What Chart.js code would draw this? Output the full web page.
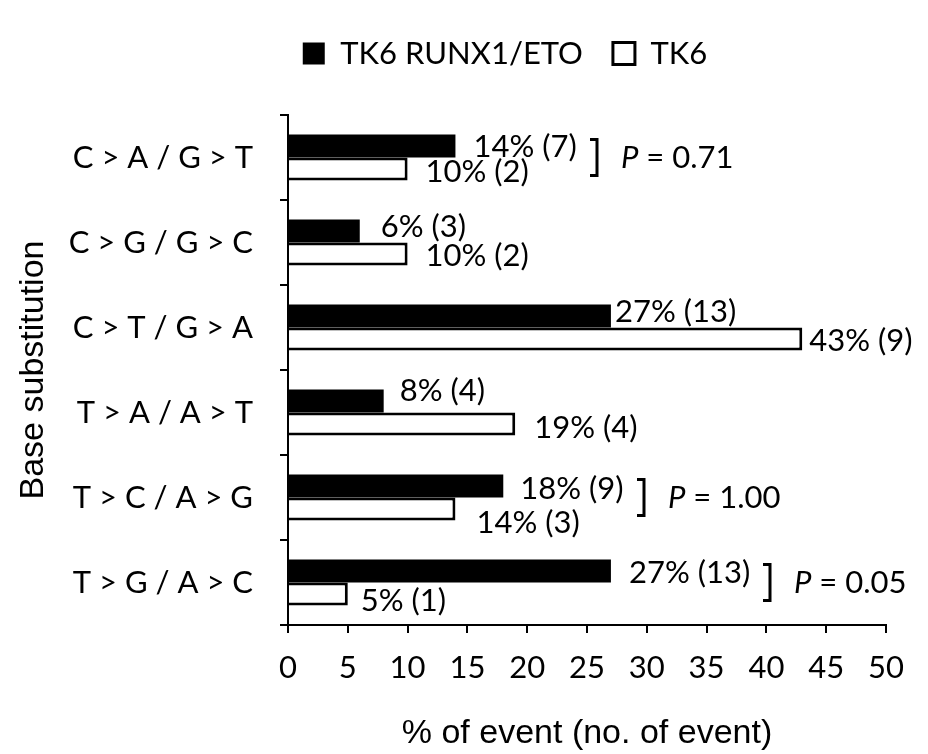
<!DOCTYPE html>
<html>
<head>
<meta charset="utf-8">
<script src="https://cdn.jsdelivr.net/npm/chart.js@4/dist/chart.umd.min.js"></script>
<style>
  html, body { margin: 0; padding: 0; background: #fff; }
  #wrap { width: 928px; height: 754px; position: relative; }
</style>
</head>
<body>
<div id="wrap"><canvas id="chart"></canvas></div>
<script>
// Base substitution categories (top to bottom)
const categories = ['C > A / G > T', 'C > G / G > C', 'C > T / G > A', 'T > A / A > T', 'T > C / A > G', 'T > G / A > C'];

// TK6 RUNX1/ETO: % of events and number of events
const runxPercent = [14, 6, 27, 8, 18, 27];
const runxCount = [7, 3, 13, 4, 9, 13];

// TK6: % of events and number of events
const tk6Percent = [10, 10, 43, 19, 14, 5];
const tk6Count = [2, 2, 9, 4, 3, 1];

// Fisher test P values per category (null = not shown)
const pValues = ['0.71', null, null, null, '1.00', '0.05'];

// x-axis range and tick step
const xMin = 0, xMax = 50, xStep = 5;

// value-label nudges [dx, dy] in px from each bar end
const runxLabelNudge = [[18, 1], [21, -4], [4, -4], [16, -10], [17, 3], [18, 2]];
const tk6LabelNudge = [[18, 3], [18, 2], [7, 2], [19, 4], [21, 14], [13, 7]];

const TEXT_FONT = 'Lato, Calibri, "Noto Sans", sans-serif';
const TITLE_FONT = '"Liberation Sans", Arial, sans-serif';
const TEXT_SIZE = 31;

// reserve a fixed band for the legend above the plot
const legendBand = {
  id: 'legendBand',
  beforeInit(chart) {
    const legend = chart.legend;
    if (!legend || legend._bandPatched) return;
    const fit = legend.fit;
    legend.fit = function () {
      fit.call(this);
      this.height = 107;
    };
    legend._bandPatched = true;
  },
  afterLayout(chart) {
    const legend = chart.legend;
    if (legend) { legend.left += 62; legend.right += 62; }
  }
};

// value labels beside the bars, plus P-value brackets
const barAnnotations = {
  id: 'barAnnotations',
  afterDatasetsDraw(chart) {
    const ctx = chart.ctx;
    const yScale = chart.scales.y;
    ctx.save();
    ctx.font = TEXT_SIZE + 'px ' + TEXT_FONT;
    ctx.fillStyle = '#000';
    ctx.textAlign = 'left';
    ctx.textBaseline = 'middle';
    const rightEdge = categories.map(() => 0);
    chart.data.datasets.forEach((ds, di) => {
      const meta = chart.getDatasetMeta(di);
      meta.data.forEach((bar, i) => {
        const [dx, dy] = ds.labelNudge[i];
        const txt = ds.data[i] + '% (' + ds.counts[i] + ')';
        const x = bar.x + dx;
        ctx.fillText(txt, x, bar.y + dy);
        rightEdge[i] = Math.max(rightEdge[i], x + ctx.measureText(txt).width);
      });
    });
    // brackets + P values
    pValues.forEach((p, i) => {
      if (p === null) return;
      const cy = yScale.getPixelForValue(i);
      const bx = Math.round(rightEdge[i] + 20);
      const top = cy - 18, bottom = cy + 18;
      ctx.beginPath();
      ctx.lineWidth = 3;
      ctx.strokeStyle = '#000';
      ctx.moveTo(bx - 7, top);
      ctx.lineTo(bx, top);
      ctx.lineTo(bx, bottom);
      ctx.lineTo(bx - 7, bottom);
      ctx.stroke();
      let tx = bx + 24;
      ctx.font = 'italic ' + TEXT_SIZE + 'px ' + TEXT_FONT;
      ctx.fillText('P', tx, cy);
      tx += ctx.measureText('P').width;
      ctx.font = TEXT_SIZE + 'px ' + TEXT_FONT;
      ctx.fillText(' = ' + p, tx, cy);
    });
    ctx.restore();
  }
};

new Chart(document.getElementById('chart'), {
  type: 'bar',
  data: {
    labels: categories,
    datasets: [
      {
        label: 'TK6 RUNX1/ETO',
        data: runxPercent,
        counts: runxCount,
        labelNudge: runxLabelNudge,
        backgroundColor: '#000',
        borderColor: '#000',
        borderWidth: 0
      },
      {
        label: 'TK6',
        data: tk6Percent,
        counts: tk6Count,
        labelNudge: tk6LabelNudge,
        backgroundColor: '#fff',
        borderColor: '#000',
        borderWidth: 3,
        borderSkipped: 'start'
      }
    ]
  },
  options: {
    indexAxis: 'y',
    responsive: true,
    maintainAspectRatio: false,
    animation: false,
    devicePixelRatio: 1,
    categoryPercentage: 0.54,
    barPercentage: 1.0,
    layout: { padding: { top: 8, left: 0, right: 42, bottom: 0 } },
    plugins: {
      tooltip: { enabled: false },
      legend: {
        position: 'top',
        align: 'center',
        labels: {
          boxWidth: 22,
          boxHeight: 22,
          padding: 30,
          color: '#000',
          font: { family: TEXT_FONT, size: TEXT_SIZE }
        }
      }
    },
    scales: {
      x: {
        type: 'linear',
        min: xMin,
        max: xMax,
        afterFit(scale) { scale.height = 129; },
        ticks: {
          stepSize: xStep,
          color: '#000',
          padding: 16,
          maxRotation: 0,
          font: { family: TEXT_FONT, size: TEXT_SIZE }
        },
        grid: { drawOnChartArea: false, drawTicks: true, tickLength: 8, color: '#000', lineWidth: 2 },
        border: { color: '#000', width: 2 },
        title: {
          display: true,
          text: '% of event (no. of event)',
          color: '#000',
          font: { family: TITLE_FONT, size: 34 },
          padding: { top: 0, bottom: 0 }
        }
      },
      y: {
        type: 'category',
        offset: true,
        afterFit(scale) { scale.width = 288; },
        ticks: {
          color: '#000',
          padding: 27,
          font: { family: TEXT_FONT, size: TEXT_SIZE }
        },
        grid: { drawOnChartArea: false, drawTicks: true, tickLength: 8, color: '#000', lineWidth: 2, offset: true },
        border: { color: '#000', width: 2 },
        title: {
          display: true,
          text: 'Base substitution',
          color: '#000',
          font: { family: TITLE_FONT, size: 34 },
          padding: { top: 13, bottom: 0 }
        }
      }
    }
  },
  plugins: [legendBand, barAnnotations]
});
</script>
</body>
</html>
